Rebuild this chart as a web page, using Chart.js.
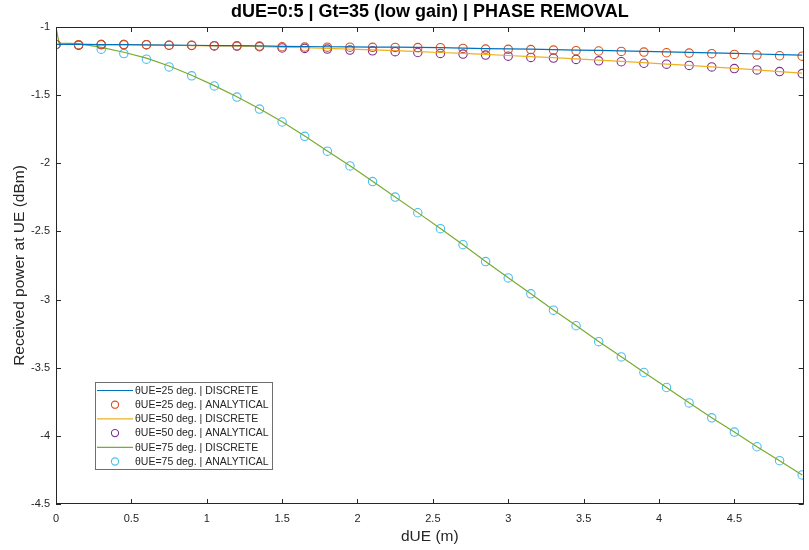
<!DOCTYPE html>
<html>
<head>
<meta charset="utf-8">
<script src="https://cdn.jsdelivr.net/npm/chart.js@4/dist/chart.umd.min.js"></script>
<style>
html,body{margin:0;padding:0;background:#fff;}
#wrap{width:809px;height:550px;position:relative;}
</style>
</head>
<body>
<div id="wrap"><canvas id="c" width="809" height="550"></canvas></div>
<script>
const chartTitle = "dUE=0:5 | Gt=35 (low gain) | PHASE REMOVAL";
const xLabel = "dUE (m)";
const yLabel = "Received power at UE (dBm)";

// x positions of analytical markers (m)
const xAnalytical = [0,0.15,0.3,0.45,0.6,0.75,0.9,1.05,1.2,1.35,1.5,1.65,1.8,1.95,2.1,2.25,2.4,2.55,2.7,2.85,3.0,3.15,3.3,3.45,3.6,3.75,3.9,4.05,4.2,4.35,4.5,4.65,4.8,4.95];
// x positions of discrete curves (m)
const xDiscrete = [0,0.02,0.15,0.3,0.45,0.6,0.75,0.9,1.05,1.2,1.35,1.5,1.65,1.8,1.95,2.1,2.25,2.4,2.55,2.7,2.85,3.0,3.15,3.3,3.45,3.6,3.75,3.9,4.05,4.2,4.35,4.5,4.65,4.8,4.95];

const disc25 = [-1.127,-1.127,-1.128,-1.129,-1.130,-1.131,-1.133,-1.134,-1.136,-1.137,-1.139,-1.142,-1.143,-1.145,-1.146,-1.147,-1.148,-1.150,-1.152,-1.155,-1.158,-1.161,-1.163,-1.166,-1.169,-1.172,-1.175,-1.179,-1.182,-1.186,-1.190,-1.194,-1.198,-1.203,-1.207];
const ana25 = [-1.128,-1.130,-1.129,-1.129,-1.130,-1.133,-1.134,-1.137,-1.138,-1.140,-1.145,-1.147,-1.148,-1.148,-1.149,-1.150,-1.151,-1.152,-1.157,-1.162,-1.164,-1.166,-1.169,-1.174,-1.176,-1.179,-1.184,-1.189,-1.191,-1.196,-1.201,-1.206,-1.211,-1.214];
const disc50 = [-1.127,-1.127,-1.128,-1.129,-1.130,-1.132,-1.134,-1.136,-1.138,-1.141,-1.144,-1.148,-1.152,-1.157,-1.162,-1.168,-1.174,-1.180,-1.187,-1.194,-1.201,-1.209,-1.217,-1.225,-1.234,-1.243,-1.252,-1.262,-1.272,-1.282,-1.293,-1.304,-1.315,-1.327,-1.339];
const ana50 = [-1.128,-1.134,-1.129,-1.129,-1.130,-1.134,-1.135,-1.139,-1.140,-1.145,-1.154,-1.157,-1.162,-1.169,-1.175,-1.181,-1.187,-1.194,-1.199,-1.206,-1.214,-1.223,-1.228,-1.238,-1.248,-1.255,-1.266,-1.273,-1.282,-1.293,-1.305,-1.315,-1.327,-1.342];
const disc75 = [-1.0,-1.118,-1.122,-1.150,-1.185,-1.228,-1.286,-1.354,-1.430,-1.512,-1.600,-1.695,-1.800,-1.909,-2.018,-2.132,-2.247,-2.362,-2.479,-2.597,-2.720,-2.840,-2.957,-3.077,-3.191,-3.308,-3.420,-3.534,-3.645,-3.757,-3.867,-3.972,-4.080,-4.182,-4.287];
const ana75 = [-1.129,-1.134,-1.163,-1.195,-1.236,-1.293,-1.358,-1.432,-1.514,-1.602,-1.697,-1.802,-1.911,-2.019,-2.134,-2.248,-2.363,-2.480,-2.597,-2.721,-2.841,-2.958,-3.078,-3.192,-3.309,-3.421,-3.535,-3.645,-3.758,-3.868,-3.972,-4.080,-4.182,-4.287];

const seriesLabels = ["θUE=25 deg. | DISCRETE","θUE=25 deg. | ANALYTICAL","θUE=50 deg. | DISCRETE","θUE=50 deg. | ANALYTICAL","θUE=75 deg. | DISCRETE","θUE=75 deg. | ANALYTICAL"];
const seriesColors = ["#0072BD","#D95319","#EDB120","#7E2F8E","#77AC30","#4DBEEE"];
const xTicks = [0,0.5,1,1.5,2,2.5,3,3.5,4,4.5];
const yTicks = [-1,-1.5,-2,-2.5,-3,-3.5,-4,-4.5];

const FONT = "'Liberation Sans', Arial, Helvetica, sans-serif";
const AX = "#262626";

function pts(xs, ys){ return xs.map((x,i)=>({x:x,y:ys[i]})); }
function lineDS(label, xs, ys, color){
  return {label, data: pts(xs,ys), showLine:true, borderColor:color, backgroundColor:color, borderWidth:1.2, pointRadius:0, pointHoverRadius:0, tension:0, isLine:true};
}
function markDS(label, xs, ys, color){
  return {label, data: pts(xs,ys), showLine:false, borderColor:color, backgroundColor:'rgba(0,0,0,0)', borderWidth:1.1, pointRadius:4.2, pointStyle:'circle', isLine:false};
}

const datasets = [
  lineDS(seriesLabels[0], xDiscrete, disc25, seriesColors[0]),
  markDS(seriesLabels[1], xAnalytical, ana25, seriesColors[1]),
  lineDS(seriesLabels[2], xDiscrete, disc50, seriesColors[2]),
  markDS(seriesLabels[3], xAnalytical, ana50, seriesColors[3]),
  lineDS(seriesLabels[4], xDiscrete, disc75, seriesColors[4]),
  markDS(seriesLabels[5], xAnalytical, ana75, seriesColors[5])
];

const boxPlugin = {
  id:'boxPlugin',
  afterDatasetsDraw(chart){
    const {ctx, chartArea:a, scales} = chart;
    ctx.save();
    ctx.strokeStyle = AX; ctx.lineWidth = 1;
    ctx.strokeRect(Math.round(a.left)+0.5, Math.round(a.top)+0.5, Math.round(a.right-a.left)-1, Math.round(a.bottom-a.top)-1);
    const L = 5;
    ctx.beginPath();
    scales.x.ticks.forEach(t=>{
      const px = Math.round(scales.x.getPixelForValue(t.value))+0.5;
      ctx.moveTo(px, a.bottom); ctx.lineTo(px, a.bottom-L);
      ctx.moveTo(px, a.top); ctx.lineTo(px, a.top+L);
    });
    scales.y.ticks.forEach(t=>{
      const py = Math.round(scales.y.getPixelForValue(t.value))+0.5;
      ctx.moveTo(a.left, py); ctx.lineTo(a.left+L, py);
      ctx.moveTo(a.right, py); ctx.lineTo(a.right-L, py);
    });
    ctx.stroke();
    ctx.restore();
  },
  afterDraw(chart){
    const {ctx, chartArea:a} = chart;
    ctx.save();
    // title
    ctx.fillStyle = "#000";
    ctx.font = "bold 18px " + FONT;
    ctx.textAlign = 'center'; ctx.textBaseline = 'middle';
    ctx.fillText(chartTitle, (a.left+a.right)/2, 12.5);
    // legend
    const bx = a.left + 39, by = 382, bw = 177, bh = 87, rowH = 14.2;
    ctx.fillStyle = '#fff';
    ctx.fillRect(bx, by, bw, bh);
    ctx.strokeStyle = '#6e6e6e'; ctx.lineWidth = 1;
    ctx.strokeRect(bx+0.5, by+0.5, bw, bh);
    ctx.font = "10.5px " + FONT;
    ctx.textAlign = 'left';
    chart.data.datasets.forEach((ds,i)=>{
      const cy = by + 8.5 + i*rowH;
      if (ds.isLine){
        ctx.strokeStyle = ds.borderColor; ctx.lineWidth = 1.2;
        ctx.beginPath(); ctx.moveTo(bx+2, cy); ctx.lineTo(bx+38, cy); ctx.stroke();
      } else {
        ctx.strokeStyle = ds.borderColor; ctx.lineWidth = 1.1;
        ctx.beginPath(); ctx.arc(bx+20, cy, 3.6, 0, Math.PI*2); ctx.stroke();
      }
      ctx.fillStyle = AX;
      ctx.fillText(ds.label, bx+40, cy+0.5);
    });
    ctx.restore();
  }
};

new Chart(document.getElementById('c'), {
  type:'scatter',
  data:{datasets},
  plugins:[boxPlugin],
  options:{
    responsive:false,
    animation:false,
    devicePixelRatio:1,
    layout:{padding:{top:27,right:2,left:0,bottom:0}},
    plugins:{legend:{display:false}, title:{display:false}, tooltip:{enabled:false}},
    scales:{
      x:{
        type:'linear', min:0, max:4.96,
        afterFit(s){ s.height = 46; },
        afterBuildTicks(s){ s.ticks = xTicks.map(v=>({value:v})); },
        ticks:{includeBounds:false, autoSkip:false, maxRotation:0, padding:8, color:AX, font:{family:FONT, size:11}, callback:(v)=>String(v)},
        grid:{display:false, drawTicks:false},
        border:{display:false},
        title:{display:true, text:xLabel, color:AX, font:{family:FONT, size:15.5}, padding:{top:0,bottom:4}}
      },
      y:{
        type:'linear', min:-4.5, max:-1,
        afterFit(s){ s.width = 56; },
        afterBuildTicks(s){ s.ticks = yTicks.map(v=>({value:v})); },
        ticks:{includeBounds:false, autoSkip:false, padding:6, color:AX, font:{family:FONT, size:11}, callback:(v)=>String(v)},
        grid:{display:false, drawTicks:false},
        border:{display:false},
        title:{display:true, text:yLabel, color:AX, font:{family:FONT, size:15.5}, padding:{top:10,bottom:0}}
      }
    }
  }
});
</script>
</body>
</html>
